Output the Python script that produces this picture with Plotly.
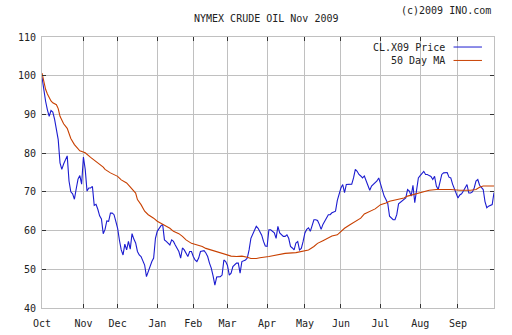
import plotly.graph_objects as go

# ---------------- data ----------------
month_labels = ["Oct", "Nov", "Dec", "Jan", "Feb", "Mar", "Apr", "May", "Jun", "Jul", "Aug", "Sep"]
month_start_day = [0, 23, 42, 64, 84, 103, 125, 146, 166, 188, 210, 231]  # trading-day index

y_ticks = [40, 50, 60, 70, 80, 90, 100, 110]

# CL.X09 daily price, one value per trading day (index 0 = 1 Oct 2008)
price = [
    99.6, 96.0, 93.4, 91.2, 89.5, 91.0, 90.6, 88.7, 86.5, 83.5,
    77.5, 75.8, 77.2, 78.5, 79.3, 72.8, 70.0, 69.5, 68.1, 70.8,
    73.3, 74.2, 72.0, 79.0, 75.8, 70.2, 71.0, 71.0, 71.4, 66.5,
    66.8, 65.5, 63.8, 63.0, 59.2, 60.3, 62.5, 62.4, 64.5, 64.5,
    64.1, 62.4, 60.6, 57.5, 55.0, 53.7, 56.5, 55.0, 57.2, 55.2,
    59.2, 57.8, 56.8, 54.6, 53.7, 53.3, 52.4, 51.1, 48.1, 49.6,
    51.1, 52.0, 52.9, 58.0, 59.8, 60.6, 61.2, 61.6, 57.6, 57.2,
    56.8, 56.3, 57.6, 57.2, 56.3, 55.5, 54.6, 52.9, 55.5, 55.0,
    54.2, 53.3, 54.6, 54.6, 53.3, 52.4, 52.0, 52.9, 54.6, 54.8,
    54.8, 54.2, 53.3, 51.6, 50.3, 48.3, 45.9, 48.0, 48.1, 48.1,
    48.5, 52.4, 52.0, 51.0, 48.5, 49.0, 50.7, 51.3, 51.6, 51.6,
    49.0, 52.0, 52.2, 52.4, 52.9, 55.0, 58.0, 58.9, 59.8, 61.1,
    60.6, 59.6, 58.8, 57.2, 56.0, 55.9, 60.2, 60.2, 59.8, 59.4,
    58.0, 61.1, 59.4, 58.9, 58.5, 58.5, 58.9, 58.0, 55.9, 55.5,
    55.0, 56.8, 57.2, 55.0, 55.4, 57.2, 59.4, 60.3, 60.7, 59.8,
    61.6, 62.8, 62.8, 62.6, 61.6, 60.3, 61.6, 62.4, 63.3, 64.1,
    64.1, 64.6, 64.8, 65.0, 67.8, 69.7, 71.0, 71.9, 69.8, 71.9,
    71.9, 71.9, 72.0, 73.6, 75.8, 75.3, 74.5, 74.1, 73.6, 74.1,
    72.8, 71.5, 70.4, 71.5, 71.9, 72.3, 72.8, 73.6, 71.9, 70.2,
    68.9, 68.0, 67.0, 63.7, 63.3, 62.8, 62.8, 64.1, 66.9, 67.3,
    67.6, 68.0, 68.4, 70.6, 70.2, 68.9, 71.7, 67.2, 70.2, 73.6,
    74.2, 74.9, 75.3, 74.5, 74.5, 74.2, 74.0, 73.2, 74.0, 71.5,
    70.6, 72.5, 74.5, 74.9, 74.9, 75.0, 73.8, 73.6, 72.0, 70.8,
    69.7, 68.4, 69.2, 69.5, 70.2, 71.0, 71.9, 69.7, 69.7, 70.0,
    71.0, 72.8, 73.2, 71.7, 71.2, 70.6, 67.5, 65.9, 66.3, 66.5,
    66.7, 69.8,
]
price_day = list(range(len(price)))

# 50 day moving average (read at sampled trading days)
ma_day = [0, 1, 2, 3, 4, 5, 6, 8, 9, 10, 12, 14, 16, 18, 21, 24, 27, 30, 34, 35,
          38, 42, 44, 47, 50, 52, 53, 55, 57, 59, 62, 64, 66, 69, 71, 73, 76, 78, 80, 83,
          86, 89, 91, 94, 97, 100, 103, 105, 108, 111, 114, 116, 119, 121, 126, 130, 135, 141, 145, 148,
          151, 153, 156, 159, 161, 164, 166, 168, 171, 174, 177, 179, 182, 185, 188, 191, 193, 197, 201, 203,
          206, 209, 212, 215, 219, 227, 232, 238, 241, 243, 245, 251]
ma = [100.7, 98.5, 96.5, 95.3, 94.2, 93.5, 93.0, 92.5, 91.5, 89.5, 87.6, 86.4, 83.8, 82.2, 80.6, 80.1, 78.9, 77.9, 76.4, 75.8,
      74.9, 74.0, 73.1, 72.3, 70.6, 69.7, 68.0, 66.7, 65.0, 64.1, 63.2, 62.4, 61.9, 61.2, 60.6, 59.8, 59.2, 58.5, 57.6, 56.7,
      56.3, 55.9, 55.4, 55.0, 54.6, 54.1, 53.7, 53.4, 53.3, 53.4, 53.1, 52.8, 52.8, 53.0, 53.3, 53.7, 54.1, 54.3, 54.6, 55.0,
      55.9, 56.7, 57.4, 58.0, 58.6, 58.9, 59.8, 60.6, 61.5, 62.4, 63.2, 64.3, 65.0, 65.6, 66.7, 67.1, 67.6, 68.0, 68.4, 68.9,
      69.3, 69.7, 70.2, 70.4, 70.6, 70.6, 70.4, 70.4, 70.6, 71.2, 71.5, 71.5]

series_names = ["CL.X09 Price", "50 Day MA"]
series_colors = ["#1c1cd0", "#c84000"]

# ---------------- figure ----------------
FONT = "DejaVu Sans Mono"
TEXT = "#222222"
GRID = "#c0c0c0"

fig = go.Figure()
fig.add_trace(go.Scatter(x=price_day, y=price, mode="lines", name=series_names[0],
                         line=dict(color=series_colors[0], width=1.1), hoverinfo="skip"))
fig.add_trace(go.Scatter(x=ma_day, y=ma, mode="lines", name=series_names[1],
                         line=dict(color=series_colors[1], width=1.1), hoverinfo="skip"))

axis_common = dict(
    showgrid=True, gridcolor=GRID, gridwidth=1,
    showline=True, linecolor=GRID, linewidth=1, mirror="ticks",
    ticks="inside", ticklen=4, tickcolor="#333333", tickwidth=1,
    tickfont=dict(family=FONT, size=10, color=TEXT),
    zeroline=False, fixedrange=True, automargin=False,
)

fig.update_xaxes(range=[0, 251], tickmode="array", tickvals=month_start_day,
                 ticktext=month_labels, ticklabelstandoff=6, **axis_common)
fig.update_yaxes(range=[40, 110], tickmode="array", tickvals=y_ticks,
                 ticktext=[str(v) for v in y_ticks], ticklabelstandoff=3, **axis_common)

# manual legend (text left of the line sample), white box over grid
legend_rows_y = [0.963, 0.9135]
fig.add_shape(type="rect", xref="paper", yref="paper", x0=0.735, x1=0.985, y0=0.888, y1=0.99,
              fillcolor="white", line=dict(width=0), layer="between")
for name, color, yy in zip(series_names, series_colors, legend_rows_y):
    fig.add_annotation(x=0.896, y=yy, xref="paper", yref="paper", text=name, showarrow=False,
                       xanchor="right", yanchor="middle",
                       font=dict(family=FONT, size=10, color=TEXT))
    fig.add_shape(type="line", xref="paper", yref="paper", x0=0.9105, x1=0.9734, y0=yy, y1=yy,
                  line=dict(color=color, width=1))

fig.add_annotation(x=0.997, y=1.097, xref="paper", yref="paper", text="(c)2009 INO.com",
                   showarrow=False, xanchor="right", yanchor="middle",
                   font=dict(family=FONT, size=10, color=TEXT))

fig.update_layout(
    width=512, height=335,
    margin=dict(l=42, r=18, t=37, b=27, pad=0),
    paper_bgcolor="white", plot_bgcolor="white",
    showlegend=False,
    title=dict(text="NYMEX CRUDE OIL Nov 2009", x=0.52, xanchor="center",
               y=1 - 18 / 335, yanchor="middle", yref="container",
               font=dict(family=FONT, size=10, color=TEXT)),
    hovermode=False,
)

fig.write_html("out.html", config={"displayModeBar": False, "staticPlot": True})
